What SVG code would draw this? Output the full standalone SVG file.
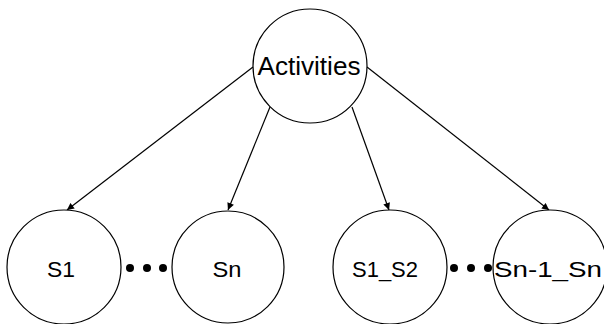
<svg xmlns="http://www.w3.org/2000/svg" width="604" height="324" viewBox="0 0 604 324">
  <defs>
    <marker id="arrow" viewBox="0 0 10 10" refX="10" refY="5" markerWidth="9" markerHeight="7" markerUnits="userSpaceOnUse" orient="auto">
      <path d="M0,0 L10,5 L0,10 z" fill="#000"/>
    </marker>
  </defs>
  <style>
    .node circle { fill: #fff; stroke: #000; stroke-width: 1.2; }
    .node text { font-family: "Liberation Sans", Arial, sans-serif; font-size: 22px; fill: #000; text-anchor: middle; }
    .edge { stroke: #000; stroke-width: 1.2; fill: none; marker-end: url(#arrow); }
    .dot { fill: #000; }
  </style>
  <rect width="604" height="324" fill="#fff"/>

  <g id="connectors">
    <line class="edge" x1="253" y1="67" x2="67" y2="210"/>
    <line class="edge" x1="270" y1="107" x2="228" y2="210"/>
    <line class="edge" x1="352" y1="107" x2="389" y2="210"/>
    <line class="edge" x1="367" y1="67" x2="549" y2="210"/>
  </g>

  <g id="activities" class="node">
    <circle cx="310" cy="66" r="57"/>
    <text x="309" y="75" style="font-size:25px" textLength="103" lengthAdjust="spacingAndGlyphs">Activities</text>
  </g>

  <g id="s1" class="node">
    <circle cx="64" cy="267" r="57"/>
    <text x="61" y="277" textLength="28" lengthAdjust="spacingAndGlyphs">S1</text>
  </g>

  <g id="sn" class="node">
    <circle cx="228" cy="267" r="56"/>
    <text x="227" y="277" textLength="29" lengthAdjust="spacingAndGlyphs">Sn</text>
  </g>

  <g id="s1_s2" class="node">
    <circle cx="390" cy="267" r="57"/>
    <text x="385" y="277" textLength="66" lengthAdjust="spacingAndGlyphs">S1_S2</text>
  </g>

  <g id="sn-1_sn" class="node">
    <circle cx="550" cy="267" r="57"/>
    <text x="548" y="277" textLength="108" lengthAdjust="spacingAndGlyphs">Sn-1_Sn</text>
  </g>

  <g id="ellipsis-left">
    <circle class="dot" cx="130" cy="268" r="4"/>
    <circle class="dot" cx="147" cy="268" r="4"/>
    <circle class="dot" cx="163" cy="268" r="4"/>
  </g>
  <g id="ellipsis-right">
    <circle class="dot" cx="454" cy="268" r="4"/>
    <circle class="dot" cx="471" cy="268" r="4"/>
    <circle class="dot" cx="488" cy="268" r="4"/>
  </g>
</svg>
